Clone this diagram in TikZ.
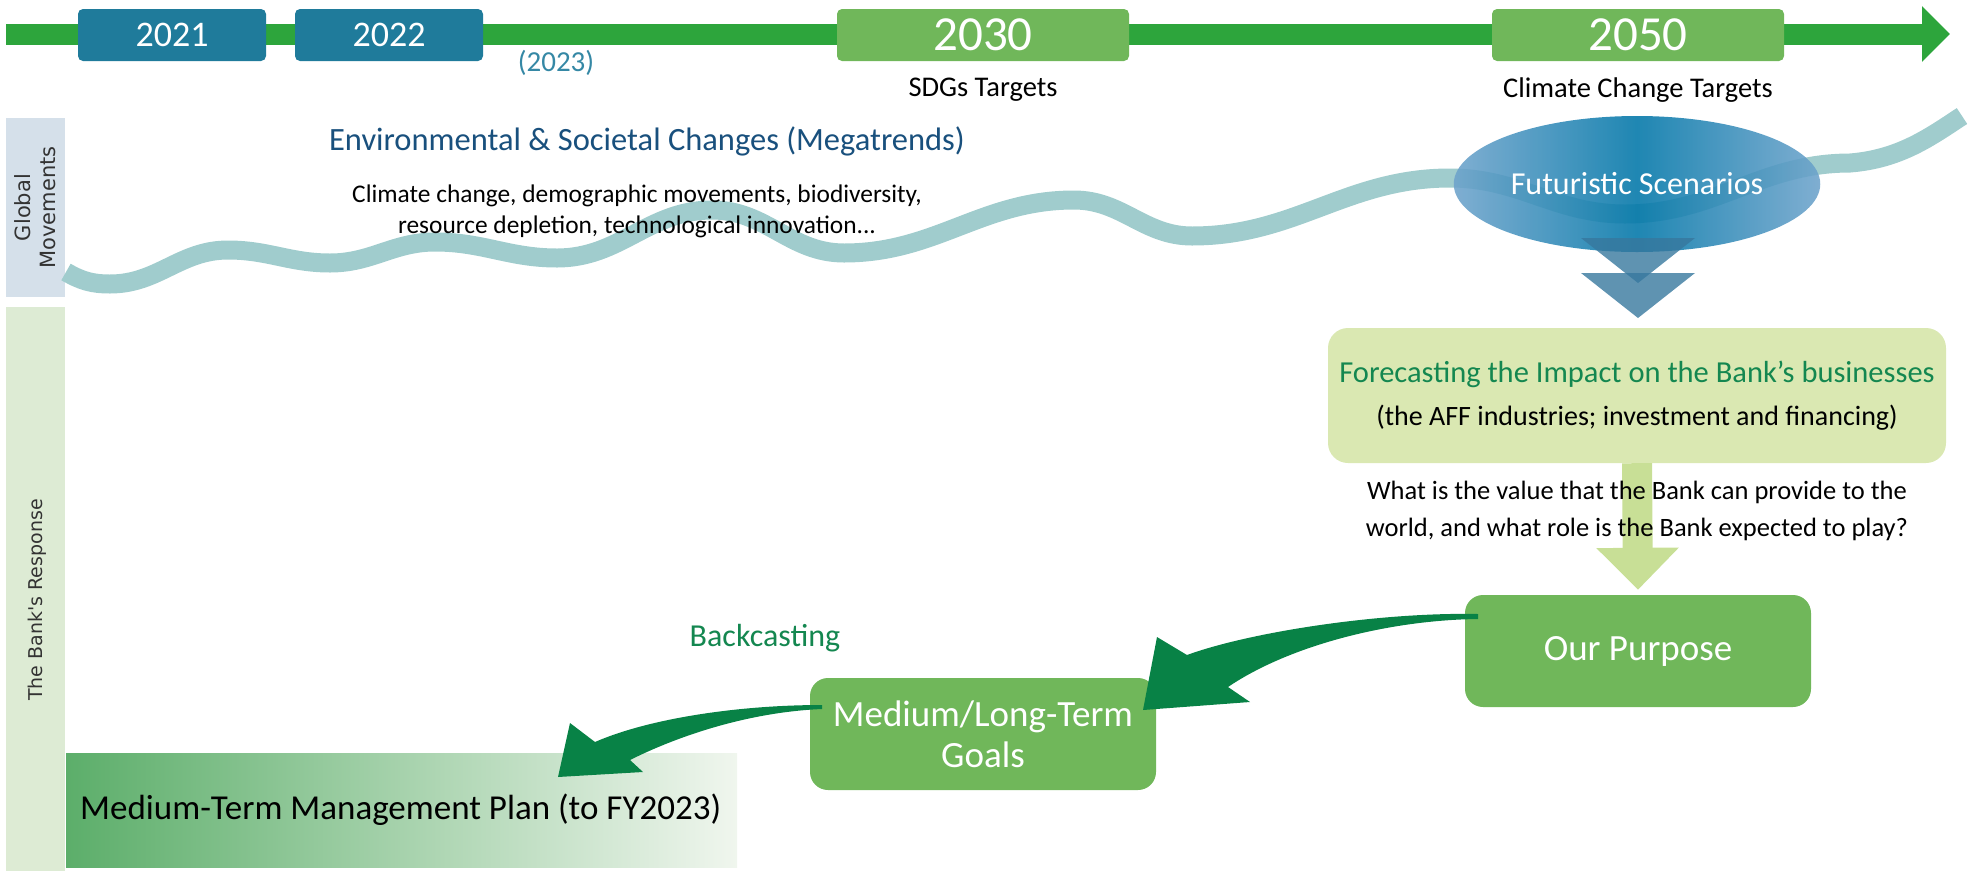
\documentclass[tikz,border=0pt]{standalone}
\usepackage{fontspec}
\setmainfont{Carlito}
\newfontfamily\sidefont{DejaVu Sans}
\usetikzlibrary{shapes.geometric,arrows.meta}

\definecolor{barGreen}{RGB}{45,165,60}
\definecolor{yearTeal}{RGB}{31,123,155}
\definecolor{leafGreen}{RGB}{112,183,90}
\definecolor{foreFill}{RGB}{218,232,178}
\definecolor{paleArrow}{RGB}{200,223,150}
\definecolor{deepGreen}{RGB}{8,130,70}
\definecolor{titleGreen}{RGB}{20,135,80}
\definecolor{navyText}{RGB}{25,80,125}
\definecolor{waveTeal}{RGB}{160,204,205}
\definecolor{scenCore}{RGB}{0,118,168}
\definecolor{scenEdge}{RGB}{110,163,203}
\definecolor{funnelBlue}{RGB}{55,120,158}
\definecolor{globalFill}{RGB}{213,224,234}
\definecolor{bankFill}{RGB}{221,235,212}
\definecolor{planLeft}{RGB}{92,174,106}
\definecolor{planRight}{RGB}{240,246,238}

\begin{document}
\begin{tikzpicture}[
    x=1pt, y=-1pt,
    yearbox/.style={rectangle, rounded corners=5pt, text=white, minimum height=52pt, inner sep=0pt},
    old year/.style={yearbox, fill=yearTeal, minimum width=188pt, font=\fontsize{36}{40}\selectfont},
    new year/.style={yearbox, fill=leafGreen, minimum width=292pt, font=\fontsize{49}{52}\selectfont},
    target/.style={font=\fontsize{28.5}{32}\selectfont},
    sidestrip/.style={rectangle, rotate=90, minimum height=59pt, inner sep=0pt, align=center, text=black!80},
    sidelabel/.style={rotate=90, align=center, text=black!80},
    timeline/.style={line width=21pt, barGreen, -{Triangle[length=28pt,width=54pt]}},
    wave/.style={line width=19pt, waveTeal},
    scenario/.style={ellipse, minimum width=344pt, minimum height=136pt, left color=scenEdge, right color=scenEdge, middle color=scenCore, fill opacity=0.88, text opacity=1, text=white, font=\fontsize{32}{34}\selectfont},
    funnel/.style={fill=funnelBlue, fill opacity=0.8},
    forebox/.style={rectangle, rounded corners=20pt, fill=foreFill, minimum width=618pt, minimum height=135pt, align=center, font=\fontsize{28}{43}\selectfont},
    pale arrow/.style={line width=30pt, paleArrow, -{Triangle[length=42pt,width=80pt]}, shorten >=5pt},
    goalbox/.style={rectangle, rounded corners=18pt, fill=leafGreen, text=white, minimum width=346pt, minimum height=112pt, align=center, font=\fontsize{37}{41}\selectfont},
    planbox/.style={rectangle, left color=planLeft, right color=planRight, minimum height=114pt, minimum width=671pt, inner xsep=14pt, font=\fontsize{35}{38}\selectfont},
    backarrow/.style={fill=deepGreen}
]
\useasboundingbox (0,0) rectangle (1971,871);

% Side strips
\node[sidestrip, fill=globalFill, minimum width=179pt, font=\sidefont\fontsize{21}{25}\selectfont] (global) at (35.5,207.5) {Global\\Movements};
\node[sidestrip, fill=bankFill, minimum width=564pt] (bank) at (35.5,589) {};
\node[sidelabel, font=\sidefont\fontsize{19}{22}\selectfont] (banklab) at (37,600) {The Bank's Response};

% Megatrend wave
\draw[wave] (66,272) to[out=-30,in=180] (110,284) to[out=0,in=180] (228,250) to[out=0,in=180] (330,263)
    to[out=0,in=180] (435,242) to[out=0,in=180] (557,258) to[out=0,in=180] (712,210)
    to[out=0,in=180] (844,253) to[out=0,in=180] (1074,200) to[out=0,in=180] (1192,236)
    to[out=0,in=180] (1450,178) to[out=0,in=180] (1625,214) to[out=0,in=180] (1850,163)
    .. controls (1900,159) and (1930,137) .. (1962,116);

% Timeline
\coordinate (tl start) at (6,34);
\coordinate (tl end) at (1950,34);
\draw[timeline] (tl start) -- (tl end);

% Years
\node[old year] (y2021) at (172,35) {2021};
\node[old year] (y2022) at (389,35) {2022};
\node[text=yearTeal!90!white, font=\fontsize{29}{32}\selectfont] (y2023) at (556,63) {(2023)};
\node[new year] (y2030) at (983,35) {2030};
\node[new year] (y2050) at (1638,35) {2050};
\node[target] (sdgs) at (983,90) {SDGs Targets};
\node[target] (climate) at (1638,90) {Climate Change Targets};

% Megatrends
\node[text=navyText, font=\fontsize{32.5}{35}\selectfont] (mega) at (647,141) {Environmental \& Societal Changes (Megatrends)};
\node[align=center, font=\fontsize{25.4}{31}\selectfont] (megalist) at (637,211) {Climate change, demographic movements, biodiversity,\\resource depletion, technological innovation...};

% Futuristic scenarios
\node[scenario] (scen) at (1637,184) {Futuristic Scenarios};
\fill[funnel] (1581,238) -- (1695,238) -- (1638,283) -- cycle;
\fill[funnel] (1581,273) -- (1695,273) -- (1638,318) -- cycle;

% Forecasting
\node[forebox] (fore) at (1637,395.5) {{\color{titleGreen}\fontsize{30.5}{43}\selectfont Forecasting the Impact on the Bank's businesses}\\(the AFF industries; investment and financing)};

% Purpose and goals
\node[goalbox] (purpose) at (1638,651) {Our Purpose};
\draw[pale arrow] (fore.south) -- (purpose.north);
\node[align=center, font=\fontsize{26.5}{37}\selectfont] (ask) at (1637,511) {What is the value that the Bank can provide to the\\world, and what role is the Bank expected to play?};
\node[goalbox] (goals) at (983,734) {Medium/Long-Term\\Goals};
\node[planbox, anchor=west] (plan) at (66,810) {\makebox[643pt][l]{Medium-Term Management Plan (to FY2023)}};

% Backcasting arrows
\node[text=titleGreen, font=\fontsize{32}{34}\selectfont] (backlab) at (765,638) {Backcasting};
\coordinate (bk1 tail) at (1478,614);
\coordinate (bk1 tip) at (1143,710);
\fill[backarrow] (bk1 tail) .. controls (1380,612) and (1250,632) .. (1187,655) -- (1157,637) -- (bk1 tip) -- (1250,702) -- (1228,687) .. controls (1290,645) and (1390,620) .. (1478,619) -- cycle;
\coordinate (bk2 tail) at (822,705);
\coordinate (bk2 tip) at (558,777);
\fill[backarrow] (bk2 tail) .. controls (740,705) and (650,718) .. (595,742) -- (570,723) -- (bk2 tip) -- (643,772) -- (630,760) .. controls (680,735) and (750,712) .. (822,709) -- cycle;
\end{tikzpicture}
\end{document}
